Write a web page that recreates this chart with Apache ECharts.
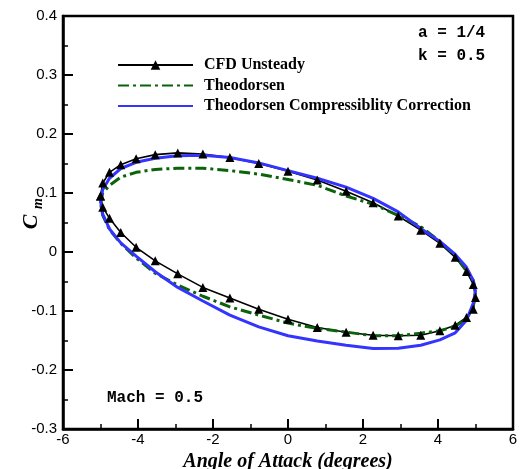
<!DOCTYPE html>
<html>
<head>
<meta charset="utf-8">
<script src="https://cdn.jsdelivr.net/npm/echarts@6/dist/echarts.min.js"></script>
<style>
  html, body { margin: 0; padding: 0; background: #fff; }
  #chart { width: 521px; height: 469px; }
</style>
</head>
<body>
<div id="chart"></div>
<script>
// Pitch angle over one oscillation cycle (degrees), upstroke then downstroke, closed loop
const alpha = [-5, -4.94, -4.76, -4.46, -4.05, -3.54, -2.94, -2.27, -1.55, -0.78, 0,
  0.78, 1.55, 2.27, 2.94, 3.54, 4.05, 4.46, 4.76, 4.94, 5,
  4.94, 4.76, 4.46, 4.05, 3.54, 2.94, 2.27, 1.55, 0.78, 0,
  -0.78, -1.55, -2.27, -2.94, -3.54, -4.05, -4.46, -4.76, -4.94, -5];

// Pitching moment coefficient for each case
const cmCFD = [0.095, 0.117, 0.135, 0.148, 0.158, 0.165, 0.168, 0.166, 0.160, 0.150, 0.137,
  0.122, 0.103, 0.0835, 0.061, 0.037, 0.0147, -0.009, -0.033, -0.055, -0.077,
  -0.097, -0.111, -0.124, -0.1335, -0.141, -0.142, -0.141, -0.136, -0.128, -0.114,
  -0.097, -0.078, -0.060, -0.037, -0.015, 0.008, 0.033, 0.057, 0.076, 0.095];

const cmTheodorsen = [0.083, 0.100, 0.113, 0.127, 0.135, 0.140, 0.142, 0.142, 0.138, 0.132, 0.123,
  0.113, 0.095, 0.081, 0.062, 0.043, 0.018, -0.006, -0.032, -0.048, -0.068,
  -0.093, -0.114, -0.126, -0.1335, -0.1375, -0.142, -0.142, -0.1357, -0.1295, -0.1205,
  -0.107, -0.093, -0.075, -0.056, -0.036, -0.010, 0.0145, 0.038, 0.062, 0.083];

const cmCompressible = [0.087, 0.106, 0.125, 0.1415, 0.152, 0.159, 0.163, 0.164, 0.160, 0.151, 0.138,
  0.125, 0.110, 0.091, 0.068, 0.040, 0.018, -0.004, -0.026, -0.048, -0.066,
  -0.087, -0.1155, -0.137, -0.149, -0.158, -0.163, -0.1635, -0.158, -0.151, -0.142,
  -0.127, -0.107, -0.083, -0.060, -0.0335, -0.007, 0.0155, 0.039, 0.064, 0.087];

const seriesNames = ['CFD Unsteady', 'Theodorsen', 'Theodorsen Compressiblity Correction'];
const caseNotes = ['a = 1/4', 'k = 0.5', 'Mach = 0.5'];
const xTitle = 'Angle of Attack (degrees)';

const pairs = ys => alpha.map((a, i) => [a, ys[i]]);

const serif = 'Liberation Serif, Times New Roman, serif';
const sans = 'Liberation Sans, Arial, sans-serif';
const mono = 'Liberation Mono, Courier New, monospace';

const chart = echarts.init(document.getElementById('chart'), null, { renderer: 'canvas' });

const axisCommon = {
  axisLine: { show: true, onZero: false, lineStyle: { color: '#000', width: 2.5 } },
  axisTick: { show: true, inside: true, length: 10, lineStyle: { color: '#000', width: 2 } },
  minorTick: { show: true, splitNumber: 2, length: 5, lineStyle: { color: '#000', width: 1.5 } },
  splitLine: { show: false },
  minorSplitLine: { show: false }
};

// line-only legend entries carry no marker
const noMarker = { color: 'rgba(0,0,0,0)', borderWidth: 0, opacity: 0 };

chart.setOption({
  animation: false,
  backgroundColor: '#fff',
  grid: {
    left: 63, right: 8, top: 16, bottom: 40, outerBoundsMode: 'none', containLabel: false,
    show: true, borderColor: '#000', borderWidth: 2.5
  },
  xAxis: Object.assign({
    type: 'value', min: -6, max: 6, interval: 2,
    name: xTitle, nameLocation: 'middle', nameGap: 19,
    nameTextStyle: { fontFamily: serif, fontStyle: 'italic', fontWeight: 'bold', fontSize: 20, color: '#000' },
    axisLabel: { margin: 3, fontFamily: sans, fontSize: 15, color: '#000' }
  }, axisCommon),
  yAxis: Object.assign({
    type: 'value', min: -0.3, max: 0.4, interval: 0.1,
    axisLabel: { margin: 6, fontFamily: sans, fontSize: 15, color: '#000',
      formatter: v => String(Math.round(v * 10) / 10) }
  }, axisCommon),
  legend: {
    orient: 'vertical', left: 117, top: 57, padding: 0,
    itemWidth: 75, itemHeight: 12, itemGap: 4.5,
    textStyle: { fontFamily: serif, fontWeight: 'bold', fontSize: 16, lineHeight: 14, color: '#000', padding: [0, 0, 0, 6] },
    data: [
      { name: seriesNames[0] },
      { name: seriesNames[1], itemStyle: noMarker },
      { name: seriesNames[2], itemStyle: noMarker }
    ]
  },
  series: [
    {
      name: seriesNames[0], type: 'line', data: pairs(cmCFD),
      symbol: 'triangle', symbolSize: 9, showSymbol: true,
      lineStyle: { color: '#000', width: 1.6 },
      itemStyle: { color: '#000' }
    },
    {
      name: seriesNames[1], type: 'line', data: pairs(cmTheodorsen),
      symbol: 'none',
      lineStyle: { color: '#0a630a', width: 3, type: [11, 4, 3, 4], cap: 'butt' },
      itemStyle: { color: '#0a630a' }
    },
    {
      name: seriesNames[2], type: 'line', data: pairs(cmCompressible),
      symbol: 'none',
      lineStyle: { color: '#3434ff', width: 3 },
      itemStyle: { color: '#3434ff' }
    }
  ],
  graphic: [
    { type: 'text', left: 418, top: 25, style: { text: caseNotes[0], font: 'bold 16px ' + mono, fill: '#000' } },
    { type: 'text', left: 418, top: 48, style: { text: caseNotes[1], font: 'bold 16px ' + mono, fill: '#000' } },
    { type: 'text', left: 107, top: 390, style: { text: caseNotes[2], font: 'bold 16px ' + mono, fill: '#000' } },
    {
      type: 'group', x: 31, y: 214, rotation: Math.PI / 2,
      children: [
        { type: 'text', x: -8, y: 0, style: { text: 'C', font: 'italic bold 22px ' + serif, fill: '#000', textAlign: 'center', textVerticalAlign: 'middle' } },
        { type: 'text', x: 5, y: 7, style: { text: 'm', font: 'italic bold 14px ' + serif, fill: '#000', textAlign: 'left', textVerticalAlign: 'middle' } }
      ]
    }
  ]
});
</script>
</body>
</html>
